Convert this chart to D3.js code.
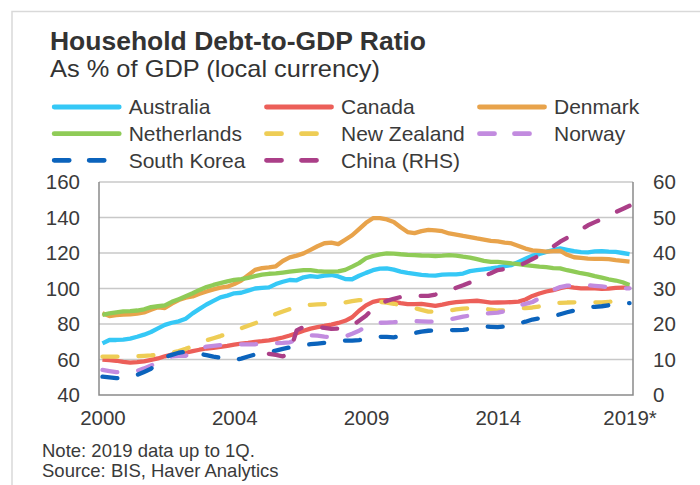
<!DOCTYPE html>
<html>
<head>
<meta charset="utf-8">
<script src="https://cdn.jsdelivr.net/npm/d3@7"></script>
<style>
  html, body { margin: 0; padding: 0; background: #fff; }
  svg { display: block; font-family: "Liberation Sans", Arial, Helvetica, sans-serif; }
</style>
</head>
<body>
<svg id="chart" width="700" height="485"></svg>
<script>
// Quarterly categories, 2000Q1 .. 2019Q1
const quarters = [];
for (let yr = 2000; yr <= 2019; yr++) {
  for (let q = 1; q <= 4; q++) {
    if (yr === 2019 && q > 1) break;
    quarters.push(yr + "Q" + q);
  }
}
const tickQuarters = ["2000Q1", "2004Q4", "2009Q3", "2014Q2", "2019Q1"];
const tickLabels   = ["2000", "2004", "2009", "2014", "2019*"];
const leftTicks  = [40, 60, 80, 100, 120, 140, 160];
const rightTicks = [0, 10, 20, 30, 40, 50, 60];

// Household debt, % of GDP
const australia = [69.1,71.0,71.0,71.2,71.8,72.8,74.0,75.5,77.5,79.5,
  80.7,81.5,83.0,86.0,88.5,91.0,93.0,95.0,96.0,97.3,
  97.6,98.8,100.0,100.4,100.6,102.5,103.8,104.8,104.6,106.3,
  107.0,106.6,107.2,107.6,106.8,105.3,105.2,107.2,108.8,110.3,
  111.2,111.3,110.6,109.5,108.8,108.3,107.7,107.4,107.2,107.8,
  108.0,108.0,108.4,109.8,110.3,110.8,111.3,111.9,112.6,113.2,
  115.0,116.8,118.5,119.4,120.6,121.7,122.6,121.8,121.0,120.5,
  120.4,120.9,121.1,120.8,120.6,120.0,119.4];
const canada = [60.0,59.6,59.3,58.6,58.2,58.5,58.9,59.8,60.6,61.8,
  62.7,63.2,63.8,64.7,65.5,66.2,66.6,67.1,67.7,68.4,
  68.9,69.3,69.9,70.3,70.8,71.5,72.4,73.5,74.8,76.2,
  77.4,78.2,78.9,79.7,80.6,81.8,83.8,87.5,90.5,92.5,
  93.3,93.5,92.5,91.8,91.2,91.2,91.3,90.8,90.2,90.9,
  91.8,92.3,92.6,92.9,93.1,92.6,92.0,92.1,92.2,92.3,
  92.6,93.8,95.8,97.2,98.3,99.1,100.2,101.0,100.5,100.1,
  100.1,100.1,99.8,99.9,100.3,100.5,100.6];
const denmark = [86.0,84.5,85.0,85.3,85.4,85.8,86.5,88.0,89.4,89.0,
  91.5,93.5,94.8,95.5,97.0,98.3,99.5,100.5,101.0,102.5,
  104.5,107.5,110.5,111.5,111.9,112.5,115.5,117.5,118.5,119.8,
  121.8,123.8,125.5,125.8,125.0,127.5,130.0,133.5,137.0,139.6,
  139.6,138.9,137.5,134.5,131.8,131.2,132.3,133.0,132.7,132.3,
  131.0,130.4,129.6,129.0,128.2,127.5,126.8,126.5,125.9,125.4,
  124.0,122.5,121.5,121.2,120.8,121.0,121.2,119.0,117.6,117.2,
  116.8,116.7,116.7,116.5,116.0,115.6,115.2];
const netherlands = [85.2,86.0,86.6,87.1,87.3,87.6,88.3,89.5,90.0,90.5,
  92.5,94.0,95.6,97.3,99.2,100.8,102.0,103.0,104.0,104.8,
  105.3,106.0,107.0,107.8,108.3,108.5,109.0,109.5,109.9,110.3,
  110.3,109.8,109.5,109.5,109.6,110.5,112.3,114.3,117.0,118.3,
  119.2,119.8,119.7,119.3,119.0,118.8,118.6,118.5,118.3,118.5,
  118.8,118.5,117.9,117.4,116.5,115.6,115.0,115.0,114.6,114.1,
  113.7,113.2,112.8,112.3,112.0,111.5,111.3,110.3,109.5,108.6,
  108.0,107.0,106.1,105.2,104.5,103.5,102.0];
const newZealand = [61.6,61.6,61.6,61.7,61.8,61.9,62.1,62.3,62.6,63.2,
  63.9,64.8,66.0,67.5,69.3,70.8,72.0,73.2,74.6,76.2,
  77.6,79.0,80.4,82.2,84.0,85.6,87.0,88.4,89.6,90.4,
  90.8,91.0,91.2,91.3,91.5,92.2,92.9,93.5,93.4,92.9,
  92.5,92.0,91.4,90.6,89.8,89.0,88.0,87.0,86.9,87.2,
  87.6,88.2,88.7,88.9,88.9,88.6,88.1,87.6,87.7,88.2,
  88.8,89.0,89.3,89.9,90.8,91.6,91.9,92.1,92.2,92.2,
  92.2,92.2,92.2,92.4,93.2,94.0,94.4];
const norway = [54.1,53.5,52.9,52.8,53.0,53.6,55.0,56.6,58.4,60.3,
  61.8,62.0,62.1,63.8,66.0,67.3,67.7,68.1,68.3,68.4,
  68.5,68.5,68.6,68.8,69.0,69.2,69.4,69.7,71.0,72.7,
  73.6,73.4,72.9,72.6,72.6,73.0,74.5,76.2,78.5,80.5,
  80.7,80.8,81.0,81.4,81.7,81.6,81.5,81.3,81.5,81.9,
  82.5,83.3,84.1,84.8,85.4,85.8,86.1,86.4,87.2,88.8,
  90.5,91.3,92.4,94.5,97.3,99.2,100.8,101.6,101.8,101.9,
  101.8,101.5,101.2,100.7,100.3,100.1,100.1];
const southKorea = [50.3,49.9,49.5,49.6,50.3,51.3,53.0,54.8,58.5,61.3,
  62.6,63.8,64.3,64.0,63.2,62.5,61.6,61.0,60.2,59.6,
  60.5,61.7,62.8,63.3,63.9,65.0,66.0,66.8,67.5,68.0,
  68.6,69.0,69.4,69.9,70.4,70.6,70.6,70.9,71.6,72.4,
  72.8,72.7,72.5,73.2,74.0,74.9,75.7,76.2,76.4,76.6,
  76.6,76.6,76.7,77.3,78.2,78.6,78.4,78.2,78.6,79.4,
  80.3,81.3,82.5,83.2,83.8,84.3,85.5,86.6,87.6,88.7,
  89.4,89.7,90.0,90.6,91.2,91.6,91.8];
// China on the right-hand scale, available from 2006Q1
const china = [null,null,null,null,null,null,null,null,null,null,
  null,null,null,null,null,null,null,null,null,null,
  null,null,null,null,
  11.6,11.3,10.9,11.8,18.2,19.2,19.3,19.2,18.9,18.6,
  18.7,18.8,19.5,20.9,22.3,24.3,25.8,26.5,27.1,27.6,
  27.8,27.9,27.9,27.9,28.3,28.9,29.5,30.2,30.9,31.7,
  32.6,33.5,34.3,35.2,35.5,35.7,36.3,37.3,38.3,39.3,
  40.4,41.8,43.2,44.3,45.5,46.6,47.8,48.7,49.5,50.5,
  51.5,52.4,53.3];

const series = [
  { name: "Australia",    values: australia,   color: "#35C8F6", dashed: false, axis: "left"  },
  { name: "Canada",       values: canada,      color: "#EC5F59", dashed: false, axis: "left"  },
  { name: "Denmark",      values: denmark,     color: "#E8A34B", dashed: false, axis: "left"  },
  { name: "Netherlands",  values: netherlands, color: "#8FCB57", dashed: false, axis: "left"  },
  { name: "New Zealand",  values: newZealand,  color: "#EECD55", dashed: true,  axis: "left"  },
  { name: "Norway",       values: norway,      color: "#C28BDF", dashed: true,  axis: "left"  },
  { name: "South Korea",  values: southKorea,  color: "#0B63BC", dashed: true,  axis: "left"  },
  { name: "China (RHS)",  values: china,       color: "#AB3F88", dashed: true,  axis: "right" }
];

const svg = d3.select("#chart");
const textColor = "#3a3a3a";
const plot = { left: 99, right: 633, top: 182, bottom: 395 };

// outer frame
svg.append("path")
  .attr("d", `M12,${485 + 5} L12,11.5 L${700 + 5},11.5`)
  .attr("fill", "none").attr("stroke", "#d9d9d9").attr("stroke-width", 1.5);

// titles
svg.append("text").attr("x", 50).attr("y", 50)
  .attr("font-size", 25).attr("font-weight", "bold").attr("fill", "#333")
  .attr("textLength", 376).attr("lengthAdjust", "spacingAndGlyphs")
  .text("Household Debt-to-GDP Ratio");
svg.append("text").attr("x", 50).attr("y", 77)
  .attr("font-size", 24).attr("fill", "#333")
  .attr("textLength", 330).attr("lengthAdjust", "spacingAndGlyphs")
  .text("As % of GDP (local currency)");

// scales
const x = d3.scalePoint().domain(quarters).range([plot.left, plot.right]).padding(0.5);
const yL = d3.scaleLinear().domain([40, 160]).range([plot.bottom, plot.top]);
const yR = d3.scaleLinear().domain([0, 60]).range([plot.bottom, plot.top]);

// gridlines
svg.append("g").selectAll("line").data(leftTicks.filter(t => t > 40)).join("line")
  .attr("x1", plot.left).attr("x2", plot.right)
  .attr("y1", d => yL(d)).attr("y2", d => yL(d))
  .attr("stroke", "#c8c8c8").attr("stroke-width", 1.5);

// axes
const styleAxis = g => {
  g.select(".domain").remove();
  g.selectAll("text").attr("font-size", 20.5).attr("fill", textColor)
    .attr("font-family", '"Liberation Sans", Arial, sans-serif');
};
svg.append("g").attr("transform", `translate(${plot.left},0)`)
  .call(d3.axisLeft(yL).tickValues(leftTicks).tickSize(0).tickPadding(19))
  .call(styleAxis);
svg.append("g").attr("transform", `translate(${plot.right},0)`)
  .call(d3.axisRight(yR).tickValues(rightTicks).tickSize(0).tickPadding(20))
  .call(styleAxis);
svg.append("g").attr("transform", `translate(0,${plot.bottom})`)
  .call(d3.axisBottom(x).tickValues(tickQuarters)
    .tickFormat(d => tickLabels[tickQuarters.indexOf(d)]).tickSize(0).tickPadding(15))
  .call(styleAxis);

// plot frame (left, bottom, right)
svg.append("path")
  .attr("d", `M${plot.left},${plot.top} V${plot.bottom} H${plot.right} V${plot.top}`)
  .attr("fill", "none").attr("stroke", "#8a8a8a").attr("stroke-width", 1.5);

// series lines
const dash = "15,21";
series.forEach(s => {
  const y = s.axis === "left" ? yL : yR;
  const line = d3.line()
    .defined(d => d != null)
    .x((d, i) => x(quarters[i]))
    .y(d => y(d));
  svg.append("path")
    .datum(s.values)
    .attr("d", line)
    .attr("fill", "none")
    .attr("stroke", s.color)
    .attr("stroke-width", 4.3)
    .attr("stroke-linejoin", "round")
    .attr("stroke-linecap", s.dashed ? "round" : "butt")
    .attr("stroke-dasharray", s.dashed ? dash : null);
});

// legend
const legCols = [51.7, 264, 477];
const legRows = [107, 133.7, 160.3];
const legend = svg.append("g");
series.forEach((s, k) => {
  const cx = legCols[k % 3], cy = legRows[Math.floor(k / 3)];
  legend.append("line")
    .attr("x1", cx + 2.5).attr("x2", s.dashed ? cx + 70 : cx + 67.5)
    .attr("y1", cy).attr("y2", cy)
    .attr("stroke", s.color).attr("stroke-width", 4.8)
    .attr("stroke-linecap", "round")
    .attr("stroke-dasharray", s.dashed ? "15,20" : null);
  legend.append("text")
    .attr("x", cx + 77).attr("y", cy).attr("dy", "0.35em")
    .attr("font-size", 21).attr("fill", textColor)
    .text(s.name);
});

// notes
svg.append("text").attr("x", 42).attr("y", 457)
  .attr("font-size", 18.5).attr("fill", textColor)
  .text("Note: 2019 data up to 1Q.");
svg.append("text").attr("x", 42).attr("y", 477)
  .attr("font-size", 18.5).attr("fill", textColor)
  .text("Source: BIS, Haver Analytics");
</script>
</body>
</html>
